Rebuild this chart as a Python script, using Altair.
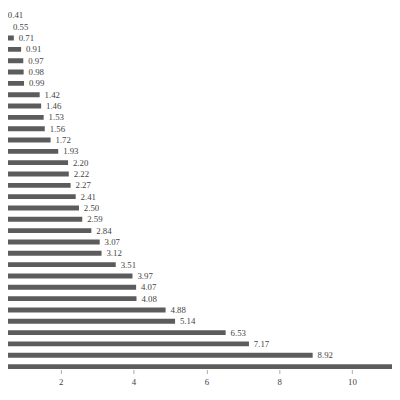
import altair as alt
import pandas as pd

values = [0.41, 0.55, 0.71, 0.91, 0.97, 0.98, 0.99, 1.42, 1.46, 1.53, 1.56, 1.72,
          1.93, 2.20, 2.22, 2.27, 2.41, 2.50, 2.59, 2.84, 3.07, 3.12, 3.51, 3.97,
          4.07, 4.08, 4.88, 5.14, 6.53, 7.17, 8.92, 12.40]
labels = ["0.41", "0.55", "0.71", "0.91", "0.97", "0.98", "0.99", "1.42", "1.46", "1.53",
          "1.56", "1.72", "1.93", "2.20", "2.22", "2.27", "2.41", "2.50", "2.59", "2.84",
          "3.07", "3.12", "3.51", "3.97", "4.07", "4.08", "4.88", "5.14", "6.53", "7.17",
          "8.92", "12.40"]
ranks = list(range(len(values)))

df = pd.DataFrame({"rank": ranks, "value": values, "label": labels, "zero": [0] * len(values)})

x_scale = alt.Scale(domain=[0.55, 11.1], nice=False, zero=False)
y_scale = alt.Scale(domain=[31.26, -0.303], nice=False, zero=False)

bars = alt.Chart(df).mark_rule(color="#5c5c5c", strokeWidth=5, clip=True).encode(
    x=alt.X("zero:Q", scale=x_scale,
            axis=alt.Axis(values=[2, 4, 6, 8, 10], grid=False, domain=False,
                          tickColor="#aaa", tickSize=4, labelFont="Liberation Sans Narrow",
                          labelFontSize=9, labelColor="#444", title=None, labelPadding=4)),
    x2="value:Q",
    y=alt.Y("rank:Q", scale=y_scale, axis=None),
)

text = alt.Chart(df).transform_filter("datum.value < 10.5").mark_text(
    align="left", baseline="middle", dx=5, fontSize=9,
    font="Liberation Sans Narrow", color="#444").encode(
    x=alt.X("value:Q", scale=x_scale),
    y=alt.Y("rank:Q", scale=y_scale, axis=None),
    text="label:N",
)

chart = (bars + text).properties(
    width=392, height=365,
    padding={"left": 0, "top": 0, "right": 0, "bottom": 24},
    autosize=alt.AutoSizeParams(type="none"),
).configure_view(stroke=None)

chart.save("out.html", embed_options={"renderer": "svg", "actions": False})
